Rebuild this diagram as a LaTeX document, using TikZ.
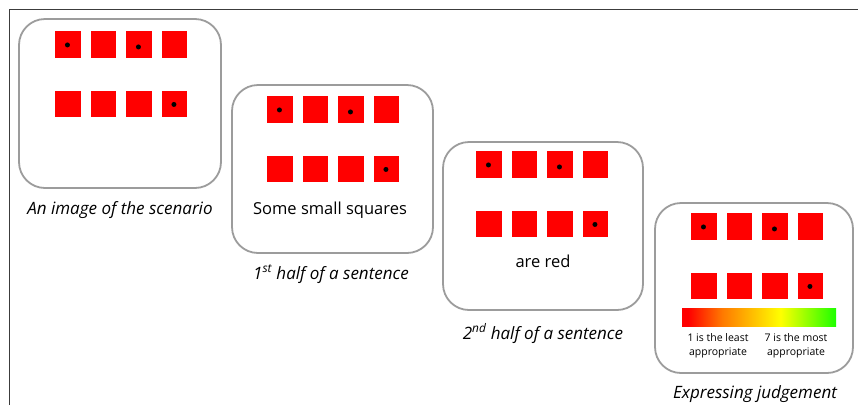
\documentclass[tikz,border=0pt]{standalone}
\usepackage{fontspec}
\setmainfont{Open Sans}
\definecolor{panelgray}{HTML}{9C9C9C}
\definecolor{framegray}{HTML}{3C3C3C}
\definecolor{sqred}{HTML}{FF0000}
\pgfdeclarehorizontalshading{judgebar}{100bp}{%
  color(0bp)=(sqred); color(27bp)=(sqred); color(38bp)=(orange!95!red);
  color(57bp)=(yellow); color(75bp)=(green!85!lime); color(100bp)=(green!85!lime)}
\tikzset{
  panel/.style={draw=panelgray, line width=1.8pt, rounded corners=26pt, fill=white},
  redsq/.style={fill=sqred, draw=none, minimum width=25.5pt, minimum height=26.5pt,
    inner sep=0pt, anchor=north west},
  dotmark/.style={circle, fill=black, inner sep=0pt, minimum size=5pt},
  caption/.style={font=\fontsize{17}{20}\selectfont\itshape, anchor=base},
  sentence/.style={font=\fontsize{16.5}{19}\selectfont, anchor=base},
  scaletext/.style={font=\fontsize{10.5}{13.5}\selectfont, align=center, anchor=north}
}
% one panel: name, top-left corner, bottom-right corner, first square corner
\newcommand{\squarepanel}[4]{%
  \draw[panel] #2 rectangle #3;
  \begin{scope}[shift={#4}]
    \foreach \r in {0,1} {
      \foreach \c in {0,1,2,3} {
        \node[redsq] (#1s\r\c) at ({\c*35.5},{\r*59.5}) {};
      }
    }
    \node[dotmark] (#1d1) at ([xshift=-0.5pt,yshift=-0.5pt]#1s00.center) {};
    \node[dotmark] (#1d2) at ([xshift=-0.5pt,yshift=-2.5pt]#1s02.center) {};
    \node[dotmark] (#1d3) at ([xshift=-0.5pt,yshift=-0.5pt]#1s13.center) {};
  \end{scope}%
}
\begin{document}
\begin{tikzpicture}[x=1pt,y=-1pt]
  \useasboundingbox (0,0) rectangle (858,405);
  % outer frame (top and left edges only)
  \draw[framegray, line width=1.6pt] (9.5,405) -- (9.5,9.5) -- (858,9.5);

  \squarepanel{pa}{(19,19)}{(221,188)}{(55,31)}
  \squarepanel{pb}{(232,85)}{(433,253)}{(267,96)}
  \squarepanel{pc}{(443,142)}{(643,310)}{(476,151)}
  \squarepanel{pd}{(655,203)}{(853,373)}{(691,213)}

  % texts inside panels
  \node[sentence] (txtb) at (330,214) {Some small squares};
  \node[sentence] (txtc) at (543,267) {are red};

  % judgement scale
  \shade[shading=judgebar] (682,308) rectangle (836,326);
  \node[scaletext] (least) at (718,330) {1 is the least\\appropriate};
  \node[scaletext] (most) at (796,330) {7 is the most\\appropriate};

  % captions
  \node[caption] (capa) at (120,214) {An image of the scenario};
  \node[caption] (capb) at (331,279) {1\textsuperscript{st} half of a sentence};
  \node[caption] (capc) at (543,339) {2\textsuperscript{nd} half of a sentence};
  \node[caption] (capd) at (755,398) {Expressing judgement};
\end{tikzpicture}
\end{document}
